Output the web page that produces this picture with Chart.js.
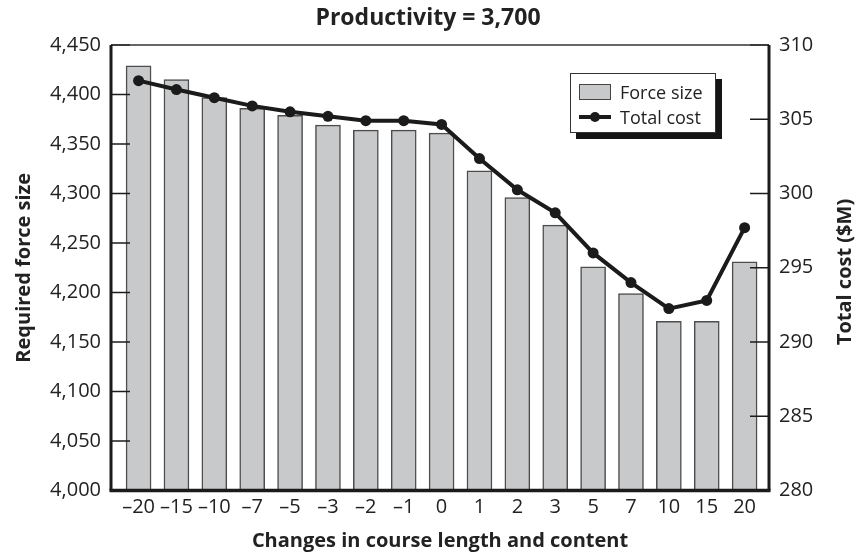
<!DOCTYPE html>
<html lang="en">
  <head>
    <meta charset="UTF-8" />
    <title>Productivity = 3,700</title>
    <script src="https://cdn.jsdelivr.net/npm/chart.js"></script>
    <style>
      body {
        margin: 0;
        background: #fff;
        font-family: "Open Sans", sans-serif;
      }
      .wrap {
        position: relative;
        width: 856px;
        height: 553px;
      }
      #legend {
        position: absolute;
        left: 570px;
        top: 73px;
        width: 144px;
        height: 58px;
        border: 1px solid #333;
        background: #fff;
        box-shadow: 6px 6px 0 #151515;
        font-size: 18px;
        color: #222;
      }
      .row {
        position: absolute;
        left: 8px;
        height: 20px;
        display: flex;
        align-items: center;
      }
      .swatch-bar {
        width: 30px;
        height: 14px;
        background: #c8c9cb;
        border: 1px solid #444;
      }
      .swatch-line {
        width: 32px;
        height: 4px;
        background: #1b1b1b;
        position: relative;
      }
      .swatch-line::after {
        content: "";
        position: absolute;
        left: 11px;
        top: -3px;
        width: 10px;
        height: 10px;
        border-radius: 50%;
        background: #1b1b1b;
      }
      .row span {
        margin-left: 9px;
      }
    </style>
  </head>
  <body>
    <div class="wrap">
      <canvas id="chart"></canvas>
      <div id="legend">
        <div class="row" style="top: 8px"><div class="swatch-bar"></div><span>Force size</span></div>
        <div class="row" style="top: 33px"><div class="swatch-line"></div><span>Total cost</span></div>
      </div>
    </div>

    <script>
      // data
      const categories = ["–20", "–15", "–10", "–7", "–5", "–3", "–2", "–1", "0", "1", "2", "3", "5", "7", "10", "15", "20"];
      const forceSize = [4429, 4415, 4397, 4386, 4379, 4369, 4364, 4364, 4361, 4323, 4296, 4268, 4226, 4199, 4171, 4171, 4231];
      const totalCost = [307.6, 307.0, 306.45, 305.9, 305.5, 305.2, 304.9, 304.9, 304.65, 302.35, 300.25, 298.7, 296.0, 294.0, 292.25, 292.8, 297.7];

      const ink = "#222";
      Chart.defaults.font.family = "'Open Sans', sans-serif";
      Chart.defaults.color = ink;

      // axis frame + inward tick marks + right-hand title
      const framePlugin = {
        id: "frame",
        afterDraw(chart) {
          const { ctx, chartArea: a, scales } = chart;
          ctx.save();
          ctx.strokeStyle = "#1b1b1b";
          ctx.lineWidth = 1.5;
          scales.y.ticks.forEach((t) => {
            const y = scales.y.getPixelForValue(t.value);
            ctx.beginPath();
            ctx.moveTo(a.left, y);
            ctx.lineTo(a.left + 19, y);
            ctx.stroke();
          });
          scales.y1.ticks.forEach((t) => {
            const y = scales.y1.getPixelForValue(t.value);
            ctx.beginPath();
            ctx.moveTo(a.right, y);
            ctx.lineTo(a.right - 19, y);
            ctx.stroke();
          });
          ctx.strokeStyle = "#333";
          ctx.beginPath();
          ctx.moveTo(a.left, a.top);
          ctx.lineTo(a.right, a.top);
          ctx.stroke();
          ctx.strokeStyle = "#1b1b1b";
          ctx.lineWidth = 3;
          ctx.beginPath();
          ctx.moveTo(a.left, a.top);
          ctx.lineTo(a.left, a.bottom);
          ctx.moveTo(a.right, a.top);
          ctx.lineTo(a.right, a.bottom);
          ctx.stroke();
          ctx.lineWidth = 3.5;
          ctx.beginPath();
          ctx.moveTo(a.left - 1.5, a.bottom);
          ctx.lineTo(a.right + 1.5, a.bottom);
          ctx.stroke();

          ctx.translate(845, 272);
          ctx.rotate(-Math.PI / 2);
          ctx.font = "bold 20px 'Open Sans'";
          ctx.fillStyle = ink;
          ctx.textAlign = "center";
          ctx.textBaseline = "middle";
          ctx.fillText("Total cost ($M)", 0, 0);
          ctx.restore();
        },
      };

      new Chart(document.getElementById("chart"), {
        type: "bar",
        data: {
          datasets: [
            {
              type: "line",
              label: "Total cost",
              data: totalCost.map((v, i) => ({ x: i, y: v })),
              yAxisID: "y1",
              borderColor: "#1b1b1b",
              backgroundColor: "#1b1b1b",
              borderWidth: 4,
              pointRadius: 5.5,
              pointBorderWidth: 0,
              tension: 0,
              order: 0,
            },
            {
              label: "Force size",
              data: forceSize.map((v, i) => ({ x: i, y: v })),
              yAxisID: "y",
              backgroundColor: "#c8c9cb",
              borderColor: "#4d4d4d",
              borderWidth: 1.5,
              barThickness: 25,
              order: 1,
            },
          ],
        },
        options: {
          responsive: true,
          maintainAspectRatio: false,
          animation: false,
          layout: { padding: 0 },
          plugins: {
            legend: { display: false },
            tooltip: { enabled: false },
            title: {
              display: true,
              text: "Productivity = 3,700",
              font: { size: 23, weight: "bold" },
              color: ink,
              padding: { top: 4.5, bottom: 12.9 },
            },
          },
          scales: {
            x: {
              type: "linear",
              offset: false,
              min: -0.728,
              max: 16.644,
              grid: { display: false, drawTicks: false },
              border: { display: false },
              afterBuildTicks: (axis) => {
                axis.ticks = categories.map((c, i) => ({ value: i }));
              },
              afterFit: (s) => {
                s.height = 62.5;
              },
              ticks: {
                autoSkip: false,
                maxRotation: 0,
                padding: 5,
                font: { size: 20 },
                callback: (v) => categories[v],
              },
              title: {
                display: true,
                text: "Changes in course length and content",
                font: { size: 20, weight: "bold" },
                padding: 0,
              },
            },
            y: {
              position: "left",
              min: 4000,
              max: 4450,
              grid: { display: false, drawTicks: false },
              border: { display: false },
              afterFit: (s) => {
                s.width = 111;
              },
              ticks: {
                stepSize: 50,
                padding: 10,
                font: { size: 20 },
                callback: (v) => v.toLocaleString("en-US"),
              },
              title: {
                display: true,
                text: "Required force size",
                font: { size: 20, weight: "bold" },
                padding: { top: 12 },
              },
            },
            y1: {
              position: "right",
              min: 280,
              max: 310,
              grid: { display: false, drawTicks: false },
              border: { display: false },
              afterFit: (s) => {
                s.width = 87;
              },
              ticks: {
                stepSize: 5,
                padding: 10,
                font: { size: 20 },
              },
            },
          },
        },
        plugins: [framePlugin],
      });
    </script>
  </body>
</html>
